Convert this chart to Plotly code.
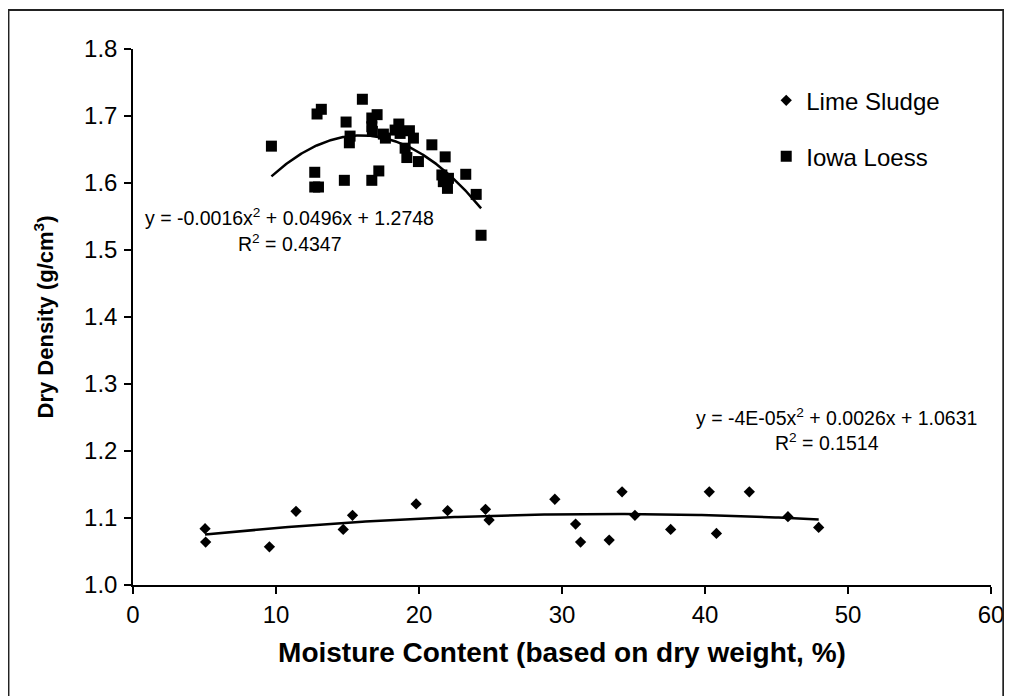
import numpy as np
import plotly.graph_objects as go

# ---- data ----
lime_x = [5.04, 5.08, 9.54, 11.4, 14.7, 15.35, 19.8, 22.0, 24.65, 24.9, 29.5,
          30.95, 31.3, 33.3, 34.2, 35.1, 37.6, 40.3, 40.8, 43.1, 45.8, 47.95]
lime_y = [1.084, 1.064, 1.057, 1.110, 1.083, 1.104, 1.121, 1.111, 1.113, 1.097, 1.128,
          1.091, 1.064, 1.067, 1.139, 1.104, 1.083, 1.139, 1.077, 1.139, 1.102, 1.086]

loess_x = [9.68, 12.71, 12.71, 12.97, 12.87, 13.17, 14.9, 14.78, 15.18, 15.13, 16.04, 16.7,
           16.7, 16.74, 17.07, 16.7, 17.19, 17.51, 17.65, 18.33, 18.59, 18.68, 19.03, 19.33,
           19.15, 19.61, 19.96, 20.9, 21.83, 21.6, 21.7, 22.06, 21.99, 23.27, 24.0, 24.34]
loess_y = [1.655, 1.616, 1.594, 1.594, 1.703, 1.710, 1.691, 1.604, 1.670, 1.660, 1.725, 1.697,
           1.684, 1.677, 1.702, 1.604, 1.618, 1.673, 1.667, 1.679, 1.688, 1.674, 1.652, 1.678,
           1.638, 1.667, 1.632, 1.657, 1.639, 1.612, 1.602, 1.607, 1.592, 1.613, 1.583, 1.522]

series_names = ["Lime Sludge", "Iowa Loess"]
lime_eq = "y = -4E-05x<sup>2</sup> + 0.0026x + 1.0631"
lime_r2 = "R<sup>2</sup> = 0.1514"
loess_eq = "y = -0.0016x<sup>2</sup> + 0.0496x + 1.2748"
loess_r2 = "R<sup>2</sup> = 0.4347"
x_ticks = [0, 10, 20, 30, 40, 50, 60]
y_ticks = [1.0, 1.1, 1.2, 1.3, 1.4, 1.5, 1.6, 1.7, 1.8]

FONT = "Liberation Sans, Arial, sans-serif"

def trend(xs, ys):
    c = np.polyfit(xs, ys, 2)
    xx = np.linspace(min(xs), max(xs), 200)
    return xx, np.polyval(c, xx)

fig = go.Figure()

lx, ly = trend(lime_x, lime_y)
fig.add_trace(go.Scatter(x=lx, y=ly, mode="lines", line=dict(color="black", width=2.5),
                         showlegend=False, hoverinfo="skip"))
ox, oy = trend(loess_x, loess_y)
fig.add_trace(go.Scatter(x=ox, y=oy, mode="lines", line=dict(color="black", width=2.5),
                         showlegend=False, hoverinfo="skip"))

fig.add_trace(go.Scatter(x=lime_x, y=lime_y, mode="markers", name=series_names[0],
                         marker=dict(symbol="diamond", size=8.7, color="black"),
                         legend="legend"))
fig.add_trace(go.Scatter(x=loess_x, y=loess_y, mode="markers", name=series_names[1],
                         marker=dict(symbol="square", size=11, color="black"),
                         legend="legend2"))

ann_font = dict(family=FONT, size=19.5, color="black")
annotations = [
    dict(x=10.91, y=1.5497, text=loess_eq),
    dict(x=10.98, y=1.5104, text=loess_r2),
    dict(x=49.18, y=1.2512, text=lime_eq),
    dict(x=48.5, y=1.2134, text=lime_r2),
]
for a in annotations:
    a.update(xref="x", yref="y", showarrow=False, font=ann_font, xanchor="center", yanchor="middle")

# page has an 8px body margin: target page pixels minus 8
OFF = 8
L, R, T, B = 133 - OFF, 990.7 - OFF, 49 - OFF, 585 - OFF
W, H = R - L, B - T
def px(v): return (v - OFF - L) / W   # v given in page pixels
def py(v): return (B - (v - OFF)) / H

fig.update_layout(
    width=1012, height=696,
    margin=dict(l=L, r=1012 - R, t=T, b=696 - B, autoexpand=False),
    paper_bgcolor="white", plot_bgcolor="white",
    font=dict(family=FONT, color="black"),
    annotations=annotations,
    shapes=[dict(type="path", xref="paper", yref="paper",
                 path=f"M {px(8.5)} {py(720)} L {px(8.5)} {py(10)} L {px(1003)} {py(10)} L {px(1003)} {py(720)}",
                 line=dict(color="#222", width=2))],
    legend=dict(x=px(766), y=py(100.7), xanchor="left", yanchor="middle",
                font=dict(family=FONT, size=24, color="black"), bgcolor="rgba(0,0,0,0)"),
    legend2=dict(x=px(766), y=py(156.7), xanchor="left", yanchor="middle",
                 font=dict(family=FONT, size=24, color="black"), bgcolor="rgba(0,0,0,0)"),
    xaxis=dict(range=[0, 60], tickvals=x_ticks, ticktext=[str(v) for v in x_ticks],
               showgrid=False, zeroline=False, showline=True, linecolor="black", linewidth=1.5,
               ticks="outside", ticklen=7, tickwidth=1.5, tickcolor="black",
               tickfont=dict(family=FONT, size=24, color="black"), ticklabelstandoff=0,
               title=dict(text="<b>Moisture Content (based on dry weight, %)</b>",
                          font=dict(family=FONT, size=28, color="black"), standoff=16)),
    yaxis=dict(range=[1.0, 1.8], tickvals=y_ticks, ticktext=[f"{v:.1f}" for v in y_ticks],
               showgrid=False, zeroline=False, showline=True, linecolor="black", linewidth=1.5,
               ticks="outside", ticklen=7, tickwidth=1.5, tickcolor="black",
               tickfont=dict(family=FONT, size=24, color="black"), ticklabelstandoff=2,
               title=dict(text="<b>Dry Density (g/cm<sup>3</sup>)</b>",
                          font=dict(family=FONT, size=22, color="black"), standoff=24)),
)

fig.write_html("out.html")
